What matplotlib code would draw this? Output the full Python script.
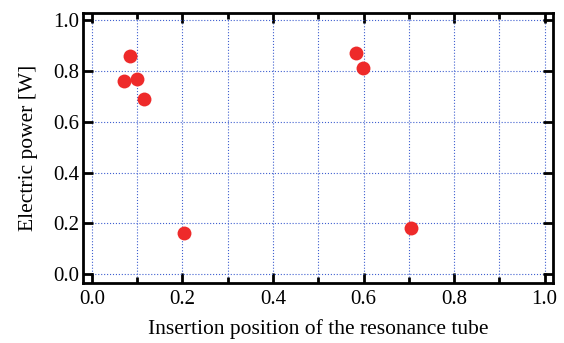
import matplotlib
matplotlib.use('Agg')
import matplotlib.pyplot as plt
from matplotlib.ticker import MultipleLocator

plt.rcParams['font.family'] = ['Liberation Serif', 'DejaVu Serif']

# 共鳴管の挿入位置と電力
position = [0.07, 0.084, 0.10, 0.115, 0.203, 0.583, 0.598, 0.704]
power = [0.76, 0.86, 0.77, 0.69, 0.16, 0.87, 0.81, 0.18]

fig, ax = plt.subplots(figsize=(5.64, 3.43), dpi=100)
ax.scatter(position, power, s=100, color='#ee2a2a', zorder=3, linewidths=0)

ax.set_xlim(-0.02, 1.018)
ax.set_ylim(-0.035, 1.028)
ax.xaxis.set_major_locator(MultipleLocator(0.2))
ax.xaxis.set_minor_locator(MultipleLocator(0.1))
ax.yaxis.set_major_locator(MultipleLocator(0.2))
ax.xaxis.set_major_formatter(lambda v, p: f'{v:.1f}')
ax.yaxis.set_major_formatter(lambda v, p: f'{v:.1f}')

ax.grid(which='both', axis='x', color='#4060d0', linestyle=':', linewidth=0.8)
ax.grid(which='major', axis='y', color='#4060d0', linestyle=':', linewidth=0.8)

ax.tick_params(which='both', direction='in', top=True, right=True, labelsize=15)
ax.tick_params(which='major', length=7, width=2)
ax.tick_params(which='minor', length=4, width=2)
ax.tick_params(axis='y', pad=2.5)
ax.tick_params(axis='x', pad=5)
for s in ax.spines.values():
    s.set_linewidth(2)

ax.set_xlabel('Insertion position of the resonance tube', fontsize=15.5, labelpad=7)
ax.set_ylabel('Electric power [W]', fontsize=15.5, labelpad=11)

plt.subplots_adjust(left=0.147, right=0.98, top=0.962, bottom=0.175)
plt.savefig('out.png')
